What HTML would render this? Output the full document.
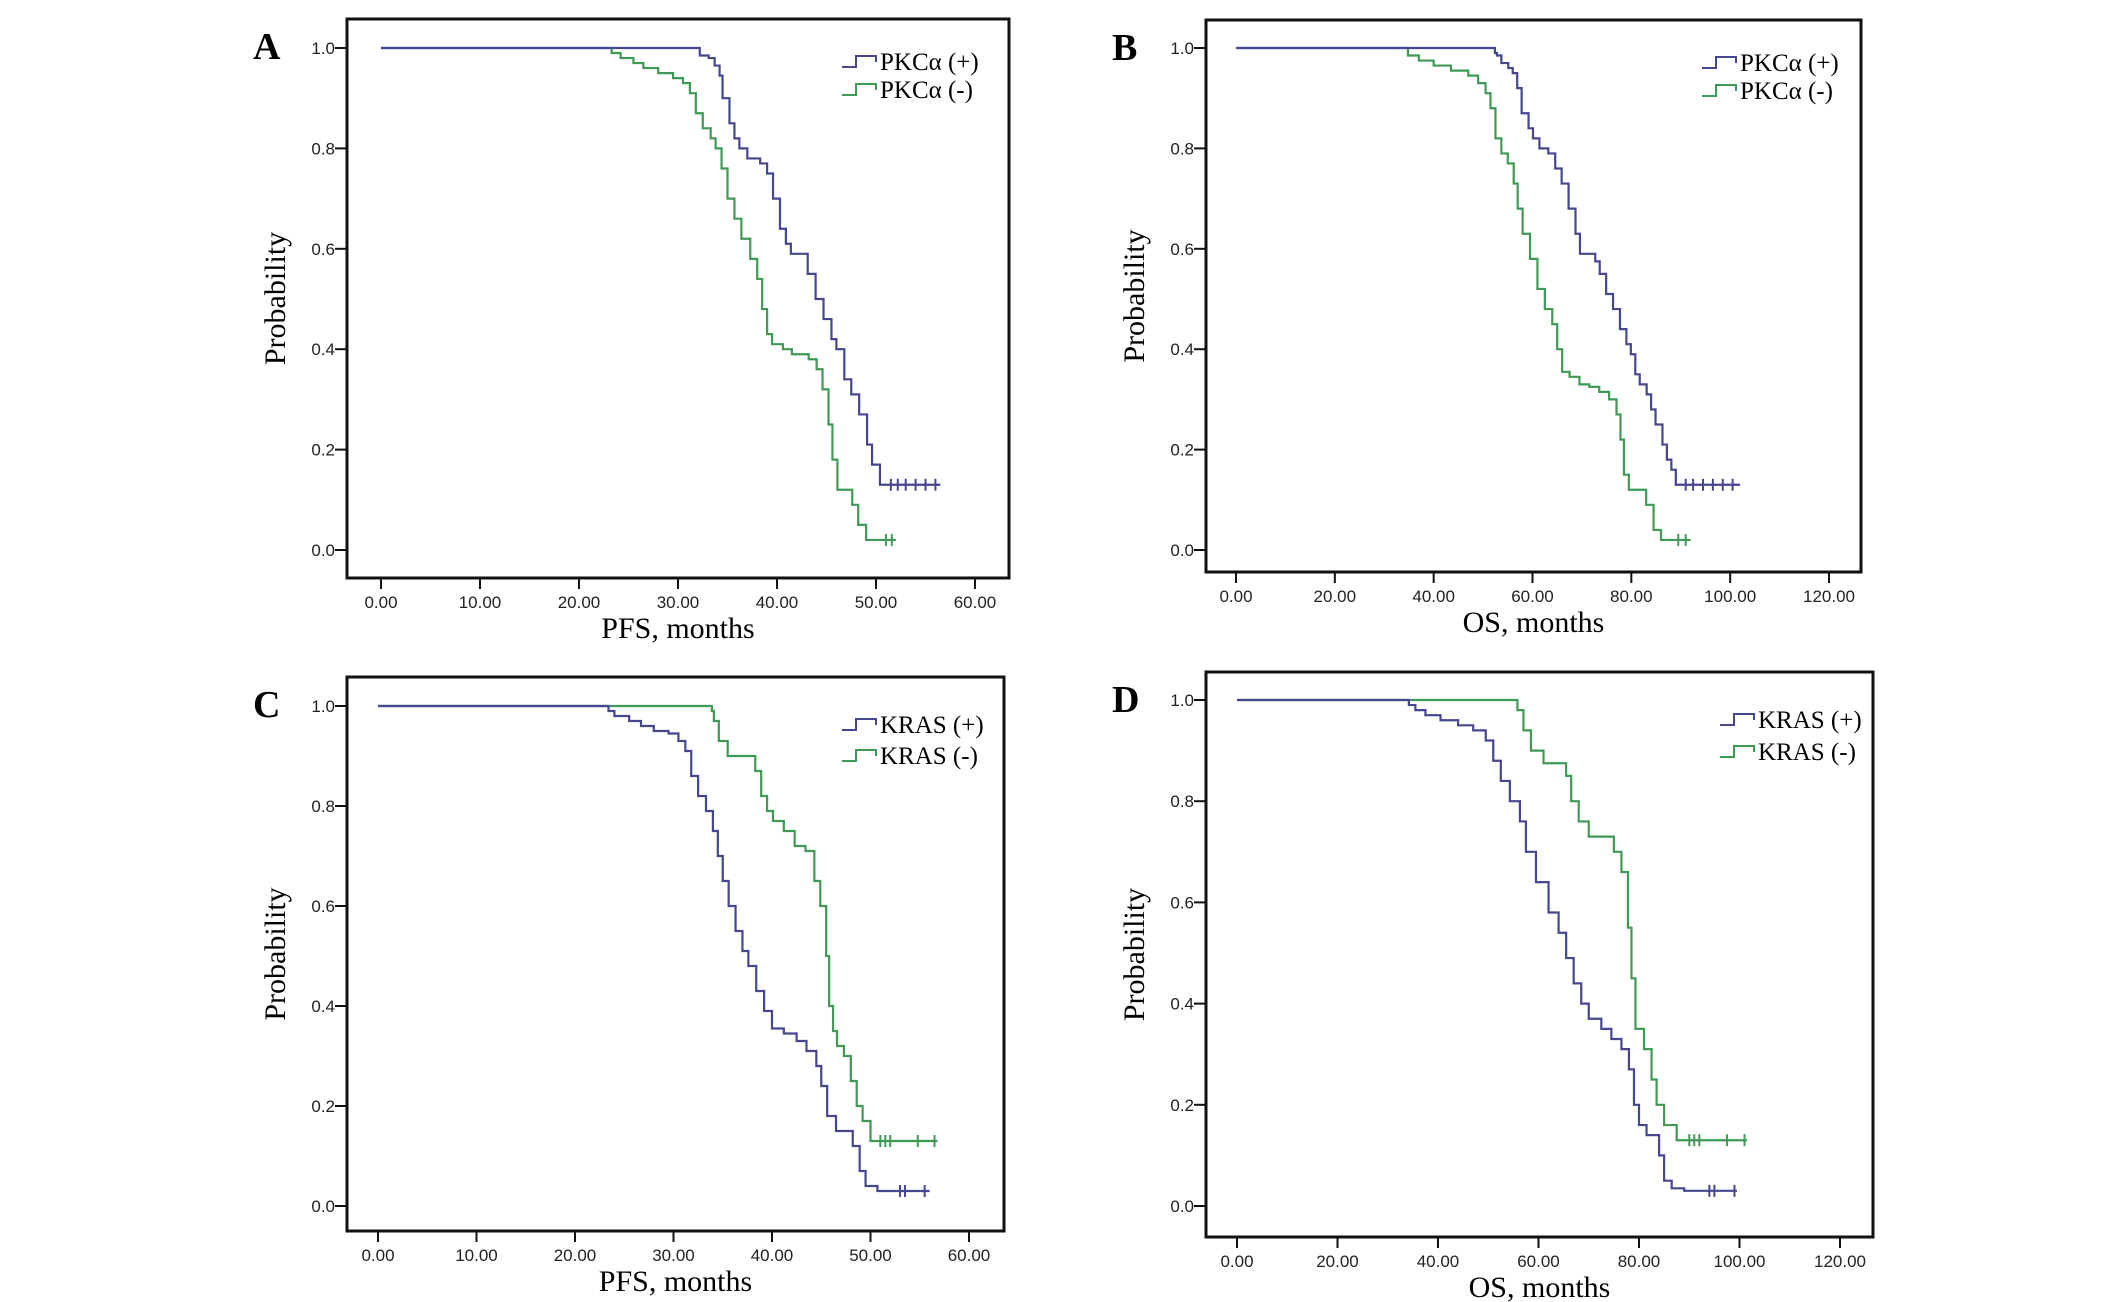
<!DOCTYPE html>
<html><head><meta charset="utf-8">
<style>
html,body{margin:0;padding:0;background:#fff;}
svg{display:block;}
.tick{font-family:"Liberation Sans",Arial,sans-serif;font-size:17px;fill:#222;}
.ttl{font-family:"Liberation Serif",serif;font-size:30px;fill:#000;}
.leg{font-family:"Liberation Serif",serif;font-size:25px;fill:#000;}
.let{font-family:"Liberation Serif",serif;font-size:38px;font-weight:bold;fill:#000;}
</style></head>
<body>
<svg id="fig" width="2126" height="1302" viewBox="0 0 2126 1302" xmlns="http://www.w3.org/2000/svg"></svg>
<script>
// ---- Panel A: PFS by PKCα ----
const aPosT = [32.2,33.1,33.7,34.2,34.5,35.2,35.7,36.2,37,38.3,39,39.6,40.3,40.9,41.4,43.1,43.9,44.7,45.5,46,46.8,47.5,48.3,49.1,49.6,50.4];
const aPosS = [0.985,0.98,0.965,0.945,0.90,0.85,0.82,0.80,0.78,0.77,0.75,0.70,0.64,0.61,0.59,0.55,0.50,0.46,0.42,0.40,0.34,0.31,0.27,0.21,0.17,0.13];
const aPosCens = [51.5,52.2,53,54,55,56];
const aPosEnd = 56.5;
const aNegT = [23.3,24.2,25.5,26.5,28,29.5,30.5,31.2,31.8,32.5,33.3,33.8,34.4,35,35.7,36.4,37.3,38,38.5,39,39.5,40.6,41.5,43.2,44,44.6,45.2,45.6,46.1,47.6,48.2,49];
const aNegS = [0.99,0.98,0.97,0.96,0.95,0.94,0.93,0.91,0.87,0.84,0.82,0.80,0.76,0.70,0.66,0.62,0.58,0.54,0.48,0.43,0.41,0.40,0.39,0.38,0.36,0.32,0.25,0.18,0.12,0.09,0.05,0.02];
const aNegCens = [51,51.6];
const aNegEnd = 52;
// ---- Panel B: OS by PKCα ----
const bPosT = [52.4,52.8,53.7,55.1,56,56.9,57.8,59.2,60.1,61.4,63.2,64.6,65.9,67.3,68.7,69.6,72.7,73.6,74.9,76.3,77.7,79,79.9,80.8,81.7,83.1,84,84.9,86.3,87.2,88.1,89];
const bPosS = [0.99,0.985,0.97,0.96,0.95,0.92,0.87,0.84,0.82,0.80,0.79,0.76,0.73,0.68,0.63,0.59,0.575,0.55,0.51,0.48,0.44,0.41,0.39,0.35,0.33,0.31,0.28,0.25,0.21,0.18,0.16,0.13];
const bPosCens = [91,92.5,94.5,96.5,98.5,100.5];
const bPosEnd = 102;
const bNegT = [34.8,37,40,43.5,47,49,50.5,51.5,52.5,53.7,55,56.2,57,58,59.5,61,62.5,64,65,66,67.5,69.5,71.5,73.5,75.5,77,77.8,78.5,79.5,83,84.5,86];
const bNegS = [0.985,0.975,0.965,0.955,0.945,0.93,0.91,0.88,0.82,0.79,0.77,0.73,0.68,0.63,0.58,0.52,0.48,0.45,0.40,0.355,0.345,0.33,0.325,0.315,0.30,0.27,0.22,0.15,0.12,0.09,0.04,0.02];
const bNegCens = [89.5,91];
const bNegEnd = 92;
// ---- Panel C: PFS by KRAS ----
const cPosT = [23.4,24,25.5,26.7,28,29.5,30.5,31.2,31.8,32.5,33.3,34,34.5,35,35.6,36.3,37,37.6,38.4,39.2,40,41.2,42.5,43.5,44.5,45,45.6,46.5,48.2,48.9,49.5,50.7];
const cPosS = [0.99,0.98,0.97,0.96,0.95,0.945,0.93,0.91,0.86,0.82,0.79,0.75,0.70,0.65,0.60,0.55,0.51,0.48,0.43,0.39,0.355,0.345,0.33,0.31,0.28,0.24,0.18,0.15,0.12,0.07,0.04,0.03];
const cPosCens = [53,53.5,55.5];
const cPosEnd = 56;
const cNegT = [33.9,34.1,34.6,35.5,38.3,38.9,39.5,40.1,41.2,42.3,43.4,44.3,44.9,45.5,45.8,46.2,46.6,47.3,48,48.6,49.2,50];
const cNegS = [0.99,0.97,0.93,0.90,0.87,0.82,0.79,0.77,0.75,0.72,0.71,0.65,0.60,0.50,0.40,0.35,0.32,0.30,0.25,0.20,0.17,0.13];
const cNegCens = [51,51.5,52,54.8,56.5];
const cNegEnd = 56.8;
// ---- Panel D: OS by KRAS ----
const dPosT = [34.2,35.5,37.5,40.5,44,47,49.5,51,52.5,54.3,56.3,57.5,59.5,62,64,65.5,67,68.5,70,72.5,74.5,76.5,78,79,80,81.5,84,85,86.5,89];
const dPosS = [0.99,0.98,0.97,0.96,0.95,0.94,0.92,0.88,0.84,0.80,0.76,0.70,0.64,0.58,0.54,0.49,0.44,0.40,0.37,0.35,0.33,0.31,0.27,0.20,0.16,0.14,0.10,0.05,0.035,0.03];
const dPosCens = [94,95,99];
const dPosEnd = 99.5;
const dNegT = [55.8,57,58.5,61,65.5,66.5,68,70,75,76.5,77.8,78.5,79.3,81,82.5,83.5,85,87.5];
const dNegS = [0.98,0.94,0.90,0.875,0.85,0.80,0.76,0.73,0.70,0.66,0.55,0.45,0.35,0.31,0.25,0.20,0.16,0.13];
const dNegCens = [90,91,92,97.5,101];
const dNegEnd = 101.5;

const yTickLabels = ["0.0","0.2","0.4","0.6","0.8","1.0"];
const yTickVals = [0,0.2,0.4,0.6,0.8,1.0];
const pfsTickVals = [0,10,20,30,40,50,60];
const pfsTickLabels = ["0.00","10.00","20.00","30.00","40.00","50.00","60.00"];
const osTickVals = [0,20,40,60,80,100,120];
const osTickLabels = ["0.00","20.00","40.00","60.00","80.00","100.00","120.00"];

const BLUE = "#45478f", GREEN = "#3f9a55";
const NS = "http://www.w3.org/2000/svg";
const svg = document.getElementById("fig");
function mk(tag, attrs, parent){
  const e = document.createElementNS(NS, tag);
  for (const k in attrs) e.setAttribute(k, attrs[k]);
  (parent||svg).appendChild(e); return e;
}

const panels = [
  {id:"a", letter:"A", box:[347,19,1009,578], x0:381, x1:975, xmax:60, y1:48, y0:550,
   xt:pfsTickVals, xl:pfsTickLabels, title:"PFS, months", leg:["PKCα (+)","PKCα (-)"], legX:842, legY:[61,89],
   pos:[aPosT,aPosS,aPosCens,aPosEnd], neg:[aNegT,aNegS,aNegCens,aNegEnd]},
  {id:"b", letter:"B", box:[1206,20,1861,572], x0:1236, x1:1829, xmax:120, y1:48, y0:550,
   xt:osTickVals, xl:osTickLabels, title:"OS, months", leg:["PKCα (+)","PKCα (-)"], legX:1702, legY:[62,90],
   pos:[bPosT,bPosS,bPosCens,bPosEnd], neg:[bNegT,bNegS,bNegCens,bNegEnd]},
  {id:"c", letter:"C", box:[347,677,1004,1231], x0:378, x1:969, xmax:60, y1:706, y0:1206,
   xt:pfsTickVals, xl:pfsTickLabels, title:"PFS, months", leg:["KRAS (+)","KRAS (-)"], legX:842, legY:[724,755],
   pos:[cPosT,cPosS,cPosCens,cPosEnd], neg:[cNegT,cNegS,cNegCens,cNegEnd]},
  {id:"d", letter:"D", box:[1206,672,1873,1237], x0:1237, x1:1840, xmax:120, y1:700, y0:1206,
   xt:osTickVals, xl:osTickLabels, title:"OS, months", leg:["KRAS (+)","KRAS (-)"], legX:1720, legY:[719,751],
   pos:[dPosT,dPosS,dPosCens,dPosEnd], neg:[dNegT,dNegS,dNegCens,dNegEnd]}
];

panels.forEach(p => {
  const g = mk("g", {});
  
  
  const X = v => p.x0 + (p.x1 - p.x0) * v / p.xmax;
  const Y = v => p.y0 + (p.y1 - p.y0) * v;
  const [bl, bt, br, bb] = p.box;
  const frame = mk("rect", {x:bl, y:bt, width:br-bl, height:bb-bt, fill:"none", stroke:"#111", "stroke-width":3}, g);
  
  

  const letter = mk("text", {x:bl-94, y:bt+40, class:"let"}, g);
  letter.textContent = p.letter;
  
  

  yTickVals.forEach((v, i) => {
    mk("line", {x1:bl-12, x2:bl, y1:Y(v), y2:Y(v), stroke:"#111", "stroke-width":2}, g);
    const t = mk("text", {x:bl-12, y:Y(v)+6, "text-anchor":"end", class:"tick"}, g);
    t.textContent = yTickLabels[i];
    
    
  });
  p.xt.forEach((v, i) => {
    mk("line", {x1:X(v), x2:X(v), y1:bb, y2:bb+11, stroke:"#111", "stroke-width":2}, g);
    const t = mk("text", {x:X(v), y:bb+30, "text-anchor":"middle", class:"tick"}, g);
    t.textContent = p.xl[i];
    
    
  });
  const xt = mk("text", {x:(bl+br)/2, y:bb+60, "text-anchor":"middle", class:"ttl"}, g);
  xt.textContent = p.title;
  
  
  const cy = (bt+bb)/2, cx = bl-62;
  const yt = mk("text", {x:cx, y:cy, "text-anchor":"middle", class:"ttl", transform:`rotate(-90 ${cx} ${cy})`}, g);
  yt.textContent = "Probability";
  
  

  function curve(series, color, name){
    const [T, S, C, E] = series;
    let d = `M${X(0)},${Y(1)}`;
    let prev = 1;
    for (let i = 0; i < T.length; i++){
      d += ` L${X(T[i])},${Y(prev)} L${X(T[i])},${Y(S[i])}`;
      prev = S[i];
    }
    d += ` L${X(E)},${Y(prev)}`;
    const path = mk("path", {d:d, fill:"none", stroke:color, "stroke-width":2.2}, g);
    
    
    C.forEach(c => {
      const m = mk("line", {x1:X(c), x2:X(c), y1:Y(prev)-6, y2:Y(prev)+6, stroke:color, "stroke-width":2}, g);
      
      
    });
  }
  curve(p.neg, GREEN, "negative");
  curve(p.pos, BLUE, "positive");

  [[BLUE, p.leg[0], p.legY[0]], [GREEN, p.leg[1], p.legY[1]]].forEach(([col, lab, ly], k) => {
    const lg = mk("g", {}, g);
    
    
    const x = p.legX;
    mk("path", {d:`M${x},${ly+6} L${x+14},${ly+6} L${x+14},${ly-5} L${x+34},${ly-5} L${x+34},${ly+1}`, fill:"none", stroke:col, "stroke-width":2}, lg);
    const t = mk("text", {x:x+38, y:ly+9, class:"leg"}, lg);
    t.textContent = lab;
  });
});
</script>
</body></html>
